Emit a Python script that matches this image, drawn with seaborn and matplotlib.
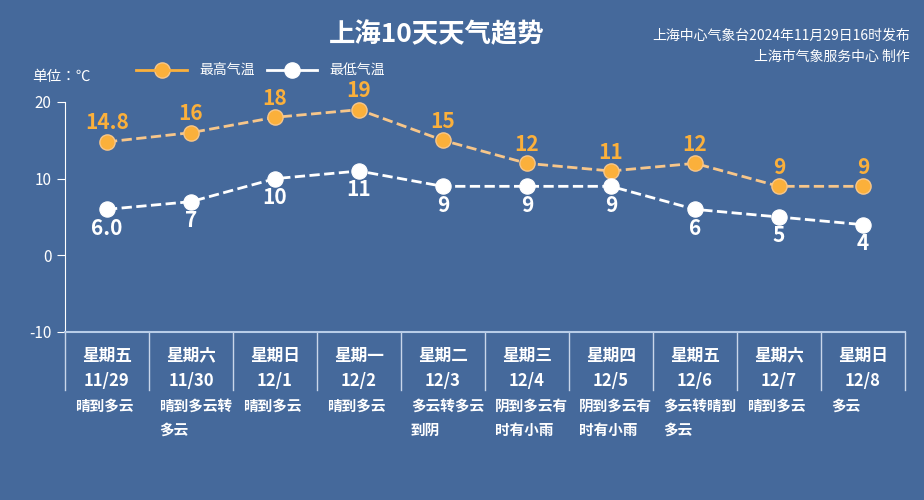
import matplotlib.pyplot as plt
import seaborn as sns
import pandas as pd

plt.rcParams['font.family'] = 'sans-serif'
plt.rcParams['font.sans-serif'] = ['Noto Sans CJK SC', 'Noto Sans CJK JP', 'Noto Sans CJK TC',
                                   'Noto Sans CJK KR', 'DejaVu Sans']
plt.rcParams['axes.unicode_minus'] = False

weekdays = ['星期五', '星期六', '星期日', '星期一', '星期二', '星期三', '星期四', '星期五', '星期六', '星期日']
dates = ['11/29', '11/30', '12/1', '12/2', '12/3', '12/4', '12/5', '12/6', '12/7', '12/8']
weather = ['晴到多云', '晴到多云转\n多云', '晴到多云', '晴到多云', '多云转多云\n到阴',
           '阴到多云有\n时有小雨', '阴到多云有\n时有小雨', '多云转晴到\n多云', '晴到多云', '多云']
high = [14.8, 16, 18, 19, 15, 12, 11, 12, 9, 9]
low = [6.0, 7, 10, 11, 9, 9, 9, 6, 5, 4]
high_labels = ['14.8', '16', '18', '19', '15', '12', '11', '12', '9', '9']
low_labels = ['6.0', '7', '10', '11', '9', '9', '9', '6', '5', '4']

bg = '#45699b'
orange = '#fbb03b'
df = pd.DataFrame({'x': range(len(high)), 'high': high, 'low': low})

fig = plt.figure(figsize=(9.24, 5), dpi=100, facecolor=bg)
ax = fig.add_axes([0.0703, 0.336, 0.909, 0.46])
ax.set_facecolor(bg)

sns.lineplot(data=df, x='x', y='high', ax=ax, color='#f7c68a', lw=2, linestyle='--', zorder=2)
sns.scatterplot(data=df, x='x', y='high', ax=ax, color=orange, s=120, edgecolor='#f7c68a',
                linewidth=1, zorder=3)
sns.lineplot(data=df, x='x', y='low', ax=ax, color='white', lw=2, linestyle='--', zorder=2)
sns.scatterplot(data=df, x='x', y='low', ax=ax, color='white', s=120, edgecolor='white', zorder=3)

for i in range(len(high)):
    ax.text(i, high[i] + 1.1, high_labels[i], color=orange, fontsize=15, fontweight='bold',
            ha='center', va='bottom')
    ax.text(i, low[i] - 1.1, low_labels[i], color='white', fontsize=15, fontweight='bold',
            ha='center', va='top')

ax.set_xlim(-0.5, len(high) - 0.5)
ax.set_ylim(-10, 20)
ax.set_yticks([-10, 0, 10, 20])
ax.tick_params(axis='y', colors='white', labelsize=11, length=6)
ax.set_xticks([])
ax.set_xlabel('')
ax.set_ylabel('')
for s in ['top', 'right']:
    ax.spines[s].set_visible(False)
ax.spines['left'].set_color('white')
ax.spines['bottom'].set_color('#b8cde8')
ax.spines['bottom'].set_linewidth(1.5)

# category columns under the axis
for k in range(len(high) + 1):
    ax.plot([k - 0.5, k - 0.5], [-10, -17.6], color='#c9d6ea', lw=1, clip_on=False)
for i in range(len(high)):
    ax.text(i, -13.1, weekdays[i], color='white', fontsize=12, fontweight='bold', ha='center', va='center')
    ax.text(i, -16.4, dates[i], color='white', fontsize=12, fontweight='bold', ha='center', va='center')
    ax.text(i - 0.38, -18.6, weather[i], color='white', fontsize=10.5, fontweight='bold',
            ha='left', va='top', linespacing=1.6)

fig.text(0.473, 0.93, '上海10天天气趋势', color='white', fontsize=19, fontweight='bold',
         ha='center', va='center')
fig.text(0.985, 0.928, '上海中心气象台2024年11月29日16时发布', color='white', fontsize=10,
         ha='right', va='center')
fig.text(0.985, 0.886, '上海市气象服务中心 制作', color='white', fontsize=10, ha='right', va='center')
fig.text(0.035, 0.845, '单位：℃', color='white', fontsize=10.5, ha='left', va='center')

# legend
ly = 24.2
ax.plot([0.35, 0.95], [ly, ly], color=orange, lw=2, clip_on=False)
ax.scatter([0.65], [ly], color=orange, s=120, edgecolor='#f7c68a', clip_on=False)
ax.text(1.1, ly, '最高气温', color='white', fontsize=10, va='center')
ax.plot([1.9, 2.5], [ly, ly], color='white', lw=2, clip_on=False)
ax.scatter([2.2], [ly], color='white', s=120, clip_on=False)
ax.text(2.65, ly, '最低气温', color='white', fontsize=10, va='center')

fig.savefig('out.png', dpi=100, facecolor=bg)
